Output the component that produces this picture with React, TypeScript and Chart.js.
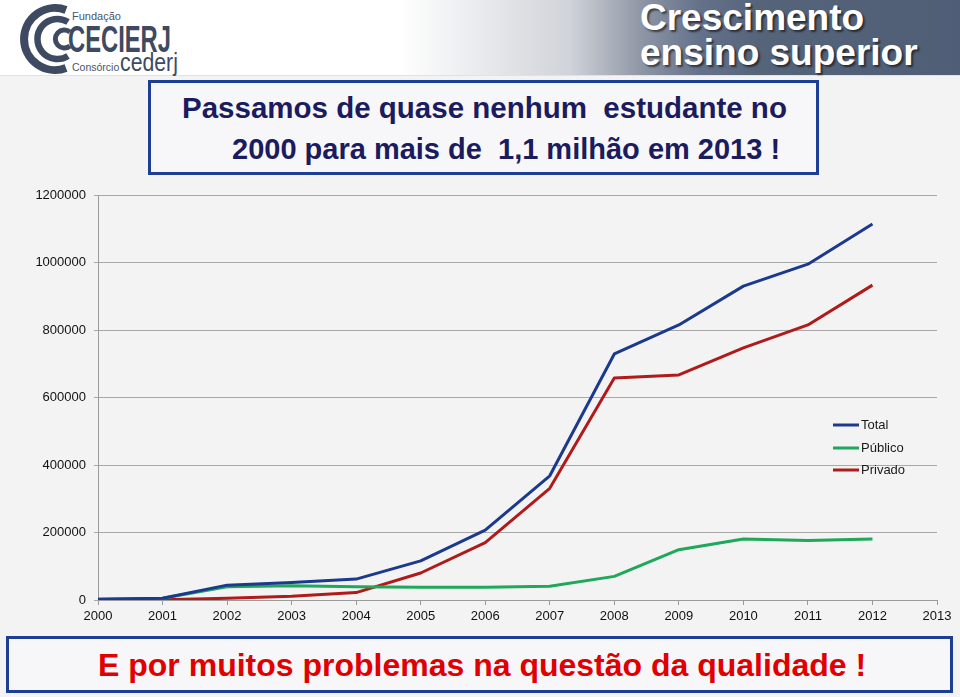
import React, { useEffect, useRef } from "react";
import { Chart, registerables } from "chart.js";

Chart.register(...registerables);

const years = ["2000","2001","2002","2003","2004","2005","2006","2007","2008","2009","2010","2011","2012","2013"];
const total = [2000, 5000, 44000, 52000, 62000, 116000, 207000, 368000, 729000, 815000, 930000, 995000, 1114000, null];
const publico = [2000, 5000, 39000, 42000, 39000, 38000, 38000, 41000, 70000, 149000, 181000, 176000, 181000, null];
const privado = [0, 1000, 5000, 11000, 22000, 80000, 170000, 331000, 658000, 667000, 747000, 815000, 933000, null];
const yTicks = [0, 200000, 400000, 600000, 800000, 1000000, 1200000];

const seriesNames = ["Total", "Público", "Privado"];
const seriesColors = ["#1b3a8e", "#1fa75a", "#b01a1a"];

const legendPlugin = {
  id: "insideLegend",
  afterDatasetsDraw(chart: any) {
    const ctx = chart.ctx;
    const items = [425, 448, 470];
    ctx.save();
    ctx.font = "13px 'Liberation Sans', Arial, sans-serif";
    ctx.textBaseline = "middle";
    ctx.textAlign = "left";
    chart.data.datasets.forEach((ds: any, i: number) => {
      const y = items[i];
      ctx.strokeStyle = ds.borderColor;
      ctx.lineWidth = 3;
      ctx.beginPath();
      ctx.moveTo(833, y);
      ctx.lineTo(859, y);
      ctx.stroke();
      ctx.fillStyle = "#1a1a1a";
      ctx.fillText(ds.label, 861, y);
    });
    ctx.restore();
  },
};

export default function App() {
  const ref = useRef<HTMLCanvasElement | null>(null);

  useEffect(() => {
    if (!ref.current) return;
    const data = [total, publico, privado];
    const chart = new Chart(ref.current, {
      type: "line",
      data: {
        labels: years,
        datasets: seriesNames.map((name, i) => ({
          label: name,
          data: data[i],
          borderColor: seriesColors[i],
          backgroundColor: seriesColors[i],
          borderWidth: 3,
          pointRadius: 0,
          tension: 0,
          spanGaps: false,
          borderJoinStyle: "round" as const,
        })),
      },
      options: {
        responsive: false,
        animation: false,
        layout: { padding: { top: 195, right: 23, left: 0, bottom: 0 } },
        plugins: { legend: { display: false }, tooltip: { enabled: false } },
        scales: {
          x: {
            grid: { drawOnChartArea: false, drawTicks: true, tickLength: 5, color: "#9a9a9a" },
            border: { color: "#9a9a9a", width: 1 },
            ticks: {
              color: "#111",
              font: { family: "'Liberation Sans', Arial, sans-serif", size: 13 },
              padding: 4,
              maxRotation: 0,
              autoSkip: false,
            },
            afterFit: (s: any) => { s.height = 97; },
          },
          y: {
            min: 0,
            max: 1200000,
            afterBuildTicks: (s: any) => { s.ticks = yTicks.map((v) => ({ value: v })); },
            grid: { color: "#a8a8a8", tickLength: 4, lineWidth: 1 },
            border: { color: "#9a9a9a", width: 1 },
            ticks: {
              color: "#111",
              font: { family: "'Liberation Sans', Arial, sans-serif", size: 13 },
              padding: 8,
              callback: (v: any) => String(v),
            },
            afterFit: (s: any) => { s.width = 98; },
          },
        },
      },
      plugins: [legendPlugin],
    });
    return () => chart.destroy();
  }, []);

  const box = (style: React.CSSProperties): React.CSSProperties => ({
    position: "absolute",
    boxSizing: "border-box",
    border: "3.5px solid #1c3f94",
    background: "#f7f7f9",
    ...style,
  });

  return (
    <div style={{ position: "fixed", left: 0, top: 0, width: 960, height: 697, background: "#f3f3f3", overflow: "hidden", fontFamily: "'Liberation Sans', Arial, sans-serif" }}>
      {/* header */}
      <div style={{ position: "absolute", left: 0, top: 0, width: 960, height: 75, background: "linear-gradient(to right, #ffffff 0px, #ffffff 400px, #d0d3d9 570px, #9097a6 640px, #64718a 700px, #56647a 760px, #4f5e76 960px)", borderBottom: "1px solid #e2e2e2" }} />
      {/* logo */}
      <svg style={{ position: "absolute", left: 6, top: 4 }} width="68" height="70" viewBox="0 0 68 70">
        <g fill="none" stroke="#3e4a62">
          <path d="M60 6 A31 31 0 1 0 60 64" strokeWidth="8" />
          <path d="M62 18 A20 20 0 1 0 62 52" strokeWidth="6.5" />
          <path d="M64 28 A9 9 0 1 0 64 42" strokeWidth="5" />
        </g>
      </svg>
      <div style={{ position: "absolute", left: 72, top: 10, fontSize: 11, color: "#4a5468" }}>Fundação</div>
      <div style={{ position: "absolute", left: 68, top: 19, fontSize: 36, fontWeight: 700, color: "#3e4a62", transform: "scaleX(0.66)", transformOrigin: "left top" }}>CECIERJ</div>
      <div style={{ position: "absolute", left: 72, top: 61, fontSize: 10.5, color: "#4a5468" }}>Consórcio</div>
      <div style={{ position: "absolute", left: 120, top: 48, fontSize: 25, color: "#3e4a62", transform: "scaleX(0.85)", transformOrigin: "left top" }}>cederj</div>
      {/* title */}
      <div style={{ position: "absolute", left: 640, top: 0, fontSize: 37, fontWeight: 700, color: "#ffffff", lineHeight: "35px", textShadow: "2px 2px 2px rgba(0,0,0,0.55)" }}>
        Crescimento<br />ensino superior
      </div>
      {/* top box */}
      <div style={box({ left: 148, top: 80, width: 671, height: 95 })}>
        <div style={{ position: "absolute", left: 31, top: 8, fontSize: 29.5, fontWeight: 700, color: "#1b1b5e", whiteSpace: "pre" }}>Passamos de quase nenhum  estudante no</div>
        <div style={{ position: "absolute", left: 81, top: 50, fontSize: 29, fontWeight: 700, color: "#1b1b5e", whiteSpace: "pre" }}>2000 para mais de  1,1 milhão em 2013 !</div>
      </div>
      {/* bottom box */}
      <div style={box({ left: 6, top: 636, width: 947, height: 57 })}>
        <div style={{ position: "absolute", left: 89, top: 8, fontSize: 32, fontWeight: 700, color: "#e00000", whiteSpace: "pre" }}>E por muitos problemas na questão da qualidade !</div>
      </div>
      <canvas ref={ref} width={960} height={697} style={{ position: "absolute", left: 0, top: 0, width: 960, height: 697 }} />
    </div>
  );
}
